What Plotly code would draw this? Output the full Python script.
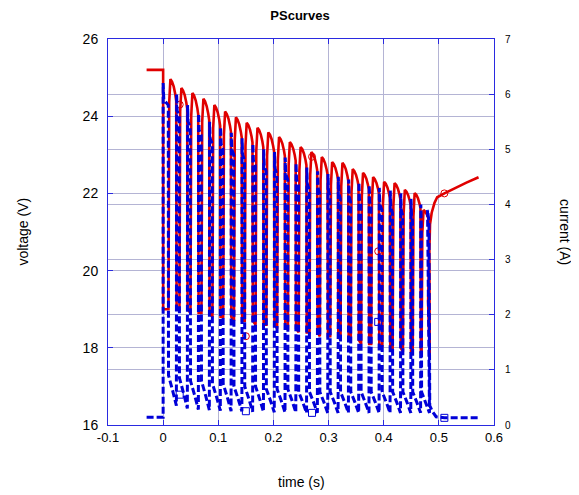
import plotly.graph_objects as go

# ---------------- data ----------------
# idle part before the pulses start
pre_t = [-0.03, 0.0]
pre_v = [25.2, 25.2]
pre_i = [0.14, 0.14]

# time of each voltage peak (s)
peak_t = [0.0132, 0.0331, 0.0531, 0.0730, 0.0929, 0.1124, 0.1320, 0.1515,
          0.1711, 0.1907, 0.2102, 0.2298, 0.2493, 0.2689, 0.2877, 0.3065,
          0.3252, 0.3438, 0.3625, 0.3808, 0.4007, 0.4197, 0.4383, 0.4561,
          0.4722]
# voltage at each peak (V)
peak_v = [24.96, 24.73, 24.60, 24.45, 24.29, 24.12, 23.97, 23.83, 23.70,
          23.58, 23.46, 23.33, 23.20, 23.07, 22.94, 22.81, 22.79, 22.63,
          22.53, 22.42, 22.30, 22.27, 22.09, 22.01, 21.57]
# voltage at the end of each pulse plateau (V)
end_v = [24.40, 24.20, 24.05, 23.90, 23.75, 23.60, 23.45, 23.32, 23.20,
         23.08, 22.97, 22.85, 22.73, 22.60, 22.48, 22.37, 22.33, 22.20,
         22.10, 22.00, 21.88, 21.85, 21.70, 21.62, 21.25]
# voltage in the gap after each pulse (V)
low_v = [19.0, 19.0, 18.9, 18.9, 18.8, 18.8, 18.7, 18.7, 18.6, 18.6,
         18.5, 18.5, 18.4, 18.4, 18.3, 18.3, 18.2, 18.2, 18.1, 18.1,
         18.0, 18.0, 17.9, 17.9, 17.8]

# current spike before each pulse (A)
high_i = [6.20, 6.00, 5.80, 5.65, 5.50, 5.40, 5.30, 5.20, 5.10, 5.00,
          4.95, 4.85, 4.75, 4.67, 4.60, 4.55, 4.50, 4.45, 4.40, 4.35,
          4.30, 4.25, 4.20, 4.10, 4.00]
# current at start / end of each pulse (A)
lo_start_i = [0.90, 0.85, 0.80, 0.80, 0.75, 0.75, 0.70, 0.70, 0.70, 0.65,
              0.65, 0.65, 0.60, 0.60, 0.60, 0.60, 0.60, 0.60, 0.60, 0.60,
              0.60, 0.60, 0.60, 0.60, 0.60]
lo_end_i = [0.35, 0.30, 0.28, 0.27, 0.26, 0.25, 0.25, 0.24, 0.24, 0.23,
            0.23, 0.23, 0.22, 0.22, 0.22, 0.22, 0.22, 0.22, 0.22, 0.22,
            0.22, 0.22, 0.22, 0.22, 0.22]

# recovery after the last pulse
tail_t = [0.4805, 0.4840, 0.4870, 0.4920, 0.4970, 0.5100, 0.5300, 0.5500, 0.5720]
tail_v = [19.2, 21.2, 21.5, 21.75, 21.9, 22.0, 22.15, 22.28, 22.42]
tail_it = [0.4795, 0.4820, 0.4835, 0.4880, 0.4950, 0.5100, 0.5720]
tail_i = [3.90, 3.70, 0.35, 0.25, 0.15, 0.13, 0.13]

# sparse markers
mark_t = [0.03, 0.15, 0.27, 0.39, 0.51]
mark_v = [24.3, 18.3, 22.95, 20.5, 22.0]
mark_i = [0.55, 0.25, 0.22, 1.87, 0.13]

x_ticks = [-0.1, 0, 0.1, 0.2, 0.3, 0.4, 0.5, 0.6]
x_labels = ["-0.1", "0", "0.1", "0.2", "0.3", "0.4", "0.5", "0.6"]
v_ticks = [16, 18, 20, 22, 24, 26]
i_ticks = [0, 1, 2, 3, 4, 5, 6, 7]

# ---------------- build the polylines ----------------
rt = list(pre_t) + [0.0]
rv = list(pre_v) + [low_v[0]]
bt = list(pre_t) + [0.0, 0.0012]
bi = list(pre_i) + [high_i[0], high_i[0] - 0.3]
n = len(peak_t)
for k in range(n):
    tp, vp, ve, vl = peak_t[k], peak_v[k], end_v[k], low_v[k]
    r = tp - 0.0035
    d = tp + 0.0112
    dv = vp - ve
    rt += [r, tp - 0.0022, tp - 0.0010, tp, tp + 0.0030, tp + 0.0060,
           tp + 0.0088, tp + 0.0105, d]
    rv += [vl, vp - 0.6, vp - 0.15, vp, vp - 0.12 * dv, vp - 0.35 * dv,
           vp - 0.7 * dv, ve, vl]
    # current: falls at the rising edge, decays, rises at falling edge
    bt += [r - 0.0004, r, tp + 0.004, d - 0.0004]
    bi += [high_i[k] - 0.4, lo_start_i[k], (lo_start_i[k] + lo_end_i[k]) / 2, lo_end_i[k]]
    if k + 1 < n:
        bt += [d, d + 0.0010]
        bi += [high_i[k + 1], high_i[k + 1] - 0.3]
rt += tail_t
rv += tail_v
bt += tail_it
bi += tail_i

RED = "#e00000"
BLUE = "#0000d8"
GRID = "#b4b4d4"
AX = "#2a2ae0"
FONT = "Liberation Sans, Arial, sans-serif"

# the page body has an 8px margin: figure drawn at (8, 8)
W, H = 571, 487

fig = go.Figure()
fig.add_trace(go.Scatter(x=rt, y=rv, mode="lines", line=dict(color=RED, width=2.6),
                         yaxis="y", showlegend=False))
fig.add_trace(go.Scatter(x=mark_t, y=mark_v, mode="markers",
                         marker=dict(symbol="circle-open", size=7, color=RED,
                                     line=dict(width=1)),
                         yaxis="y", showlegend=False))
fig.add_trace(go.Scatter(x=bt, y=bi, mode="lines",
                         line=dict(color=BLUE, width=3, dash="7px,3px"),
                         yaxis="y2", showlegend=False))
fig.add_trace(go.Scatter(x=mark_t, y=mark_i, mode="markers",
                         marker=dict(symbol="square-open", size=7, color=BLUE,
                                     line=dict(width=1)),
                         yaxis="y2", showlegend=False))

fig.update_layout(
    width=W, height=H,
    margin=dict(l=99.5, r=85, t=31, b=70),
    paper_bgcolor="white", plot_bgcolor="white",
    font=dict(family=FONT, color="black"),
    title=dict(text="<b>PScurves</b>", x=(300 - 8) / W, xanchor="center",
               y=1 - 7 / H, yanchor="middle", font=dict(size=13, family=FONT)),
    xaxis=dict(range=[-0.1, 0.6], tickvals=x_ticks, ticktext=x_labels,
               showgrid=True, gridcolor=GRID, gridwidth=1.3,
               showline=True, linecolor=AX, linewidth=1, mirror="ticks",
               ticks="inside", ticklen=5, tickcolor=AX,
               tickfont=dict(size=13), zeroline=False),
    yaxis=dict(range=[16, 26], tickvals=v_ticks,
               showgrid=True, gridcolor=GRID, gridwidth=1.3,
               showline=True, linecolor=AX, linewidth=1,
               ticks="inside", ticklen=5, tickcolor=AX,
               tickfont=dict(size=14), ticklabelstandoff=6, zeroline=False),
    yaxis2=dict(range=[0, 7], tickvals=i_ticks, overlaying="y", side="right",
                showgrid=True, gridcolor=GRID, gridwidth=1.3,
                showline=True, linecolor=AX, linewidth=1,
                ticks="inside", ticklen=5, tickcolor=AX,
                tickfont=dict(size=10), ticklabelstandoff=8, zeroline=False),
    annotations=[
        dict(text="time (s)", xref="paper", yref="paper", x=0.5, y=-57 / 386,
             xanchor="center", yanchor="middle", showarrow=False,
             font=dict(size=14)),
        dict(text="voltage (V)", xref="paper", yref="paper", x=(22 - 107.5) / 386.5,
             y=0.5, xanchor="center", yanchor="middle", textangle=-90,
             showarrow=False, font=dict(size=14)),
        dict(text="current (A)", xref="paper", yref="paper", x=(565 - 107.5) / 386.5,
             y=0.5, xanchor="center", yanchor="middle", textangle=90,
             showarrow=False, font=dict(size=14)),
    ],
)

fig.write_html("out.html")
